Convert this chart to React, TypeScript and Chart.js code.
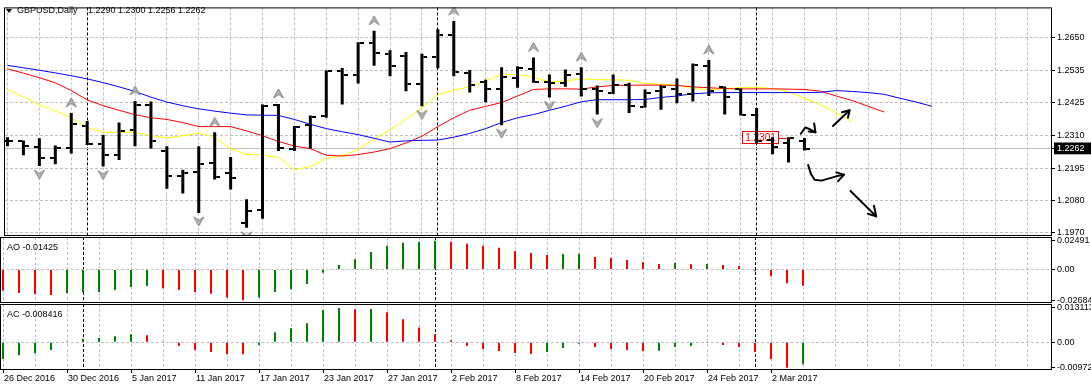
import React, { useEffect, useRef } from 'react';
import { Chart, registerables } from 'chart.js';

Chart.register(...registerables);

// ---------------- data ----------------
const symbolTitle = 'GBPUSD,Daily';
const dateLabels = ['26 Dec 2016', '30 Dec 2016', '5 Jan 2017', '11 Jan 2017', '17 Jan 2017', '23 Jan 2017', '27 Jan 2017', '2 Feb 2017', '8 Feb 2017', '14 Feb 2017', '20 Feb 2017', '24 Feb 2017', '2 Mar 2017'];
const monthStartBars = [5, 27, 47];

const opens = [1.2288, 1.2288, 1.2268, 1.2231, 1.2266, 1.2342, 1.2278, 1.2242, 1.2328, 1.2414, 1.2254, 1.2166, 1.2180, 1.2211, 1.2177, 1.2003, 1.2050, 1.2414, 1.2263, 1.2345, 1.2377, 1.2533, 1.2522, 1.2633, 1.2595, 1.2587, 1.2488, 1.2585, 1.2659, 1.2527, 1.2495, 1.2473, 1.2511, 1.2540, 1.2496, 1.2491, 1.2525, 1.2470, 1.2459, 1.2485, 1.2409, 1.2465, 1.2473, 1.2454, 1.2553, 1.2477, 1.2471, 1.2379, 1.2294, 1.2282, 1.2290];
const highs = [1.2303, 1.2291, 1.2299, 1.2274, 1.2388, 1.2360, 1.2311, 1.2354, 1.2430, 1.2428, 1.2271, 1.2189, 1.2271, 1.2320, 1.2234, 1.2086, 1.2417, 1.2419, 1.2342, 1.2379, 1.2536, 1.2545, 1.2635, 1.2675, 1.2607, 1.2601, 1.2595, 1.2681, 1.2709, 1.2538, 1.2504, 1.2548, 1.2551, 1.2582, 1.2522, 1.2540, 1.2548, 1.2484, 1.2522, 1.2493, 1.2470, 1.2485, 1.2508, 1.2561, 1.2573, 1.2480, 1.2473, 1.2405, 1.2303, 1.2303, 1.2300];
const lows = [1.2271, 1.2240, 1.2202, 1.2208, 1.2246, 1.2276, 1.2200, 1.2223, 1.2271, 1.2263, 1.2123, 1.2106, 1.2038, 1.2155, 1.2120, 1.1986, 1.2018, 1.2255, 1.2255, 1.2263, 1.2371, 1.2417, 1.2491, 1.2553, 1.2516, 1.2464, 1.2411, 1.2544, 1.2516, 1.2459, 1.2425, 1.2345, 1.2476, 1.2493, 1.2442, 1.2479, 1.2445, 1.2382, 1.2454, 1.2388, 1.2407, 1.2399, 1.2422, 1.2428, 1.2447, 1.2382, 1.2379, 1.2280, 1.2243, 1.2214, 1.2256];
const closes = [1.2288, 1.2272, 1.2231, 1.2266, 1.2348, 1.2280, 1.2240, 1.2323, 1.2414, 1.2288, 1.2166, 1.2177, 1.2209, 1.2164, 1.2160, 1.2046, 1.2413, 1.2266, 1.2340, 1.2374, 1.2534, 1.2522, 1.2633, 1.2599, 1.2551, 1.2488, 1.2582, 1.2661, 1.2530, 1.2487, 1.2471, 1.2513, 1.2544, 1.2496, 1.2491, 1.2522, 1.2470, 1.2464, 1.2487, 1.2411, 1.2459, 1.2479, 1.2454, 1.2555, 1.2464, 1.2445, 1.2380, 1.2290, 1.2270, 1.2300, 1.2262];

// Alligator (jaw blue, teeth red, lips yellow) - shifted forward past the last bar
const jaw = [1.2554, 1.2546, 1.2537, 1.2528, 1.2518, 1.2507, 1.2494, 1.2479, 1.2463, 1.2443, 1.2426, 1.2413, 1.2402, 1.2394, 1.2387, 1.2381, 1.2380, 1.2379, 1.2365, 1.2348, 1.2333, 1.2322, 1.2312, 1.2299, 1.2286, 1.2290, 1.2292, 1.2293, 1.2303, 1.2316, 1.2333, 1.2354, 1.2371, 1.2382, 1.2397, 1.2411, 1.2427, 1.2434, 1.2434, 1.2434, 1.2435, 1.2442, 1.2447, 1.2455, 1.2458, 1.2459, 1.2459, 1.2459, 1.2459, 1.2459, 1.2459, 1.2460, 1.2466, 1.2463, 1.2459, 1.2453, 1.2439, 1.2426, 1.2411];
const teeth = [1.2542, 1.2527, 1.2511, 1.2493, 1.2466, 1.2434, 1.2413, 1.2397, 1.2382, 1.2371, 1.2365, 1.2354, 1.2340, 1.2340, 1.2340, 1.2325, 1.2308, 1.2288, 1.2272, 1.2263, 1.2240, 1.2237, 1.2242, 1.2251, 1.2263, 1.2283, 1.2306, 1.2340, 1.2371, 1.2397, 1.2411, 1.2424, 1.2447, 1.2470, 1.2472, 1.2472, 1.2471, 1.2479, 1.2484, 1.2485, 1.2485, 1.2485, 1.2484, 1.2479, 1.2476, 1.2473, 1.2472, 1.2472, 1.2472, 1.2471, 1.2470, 1.2464, 1.2447, 1.2431, 1.2411, 1.2391];
const lips = [1.2470, 1.2445, 1.2417, 1.2394, 1.2371, 1.2337, 1.2320, 1.2320, 1.2320, 1.2308, 1.2301, 1.2308, 1.2317, 1.2303, 1.2263, 1.2243, 1.2240, 1.2233, 1.2189, 1.2200, 1.2229, 1.2238, 1.2259, 1.2297, 1.2328, 1.2365, 1.2405, 1.2451, 1.2468, 1.2479, 1.2500, 1.2522, 1.2522, 1.2513, 1.2496, 1.2500, 1.2507, 1.2504, 1.2504, 1.2502, 1.2491, 1.2488, 1.2486, 1.2473, 1.2470, 1.2473, 1.2476, 1.2478, 1.2473, 1.2462, 1.2439, 1.2417, 1.2388, 1.2358];

const fractalUpBars = [4, 8, 13, 17, 23, 28, 33, 36, 44];
const fractalDownBars = [2, 6, 12, 15, 26, 31, 34, 37];

const aoValues = [-0.0185, -0.0205, -0.0214, -0.0223, -0.0205, -0.0199, -0.0196, -0.0179, -0.0152, -0.0144, -0.0164, -0.0179, -0.0196, -0.0211, -0.0243, -0.02684, -0.0243, -0.0196, -0.0173, -0.0126, -0.0029, 0.0038, 0.0088, 0.0152, 0.0205, 0.0231, 0.0240, 0.02491, 0.0240, 0.0223, 0.0205, 0.0188, 0.0161, 0.0144, 0.0126, 0.0135, 0.0137, 0.0108, 0.0100, 0.0082, 0.0064, 0.0047, 0.0056, 0.0045, 0.0047, 0.0038, 0.0029, -0.0015, -0.0059, -0.0120, -0.01425];
const acValues = [-0.0064, -0.0050, -0.0042, -0.0029, 0.0003, 0.0014, 0.0016, 0.0023, 0.0031, 0.0027, 0.0003, -0.0014, -0.0029, -0.0037, -0.0045, -0.0046, -0.0010, 0.0038, 0.0054, 0.0073, 0.0123, 0.013113, 0.0126, 0.0127, 0.0115, 0.0088, 0.0057, 0.0031, 0.0008, -0.0014, -0.0026, -0.0033, -0.0041, -0.0045, -0.0037, -0.0022, -0.0006, -0.0018, -0.0026, -0.0029, -0.0033, -0.0032, -0.0018, -0.0014, -0.0003, -0.0010, -0.0018, -0.0037, -0.0064, -0.00972, -0.008416];
const aoFirstBarRising = false;
const acFirstBarRising = true;

const priceTicks = [1.2650, 1.2535, 1.2425, 1.2310, 1.2195, 1.2080, 1.1970];
const aoTickLabels = ['0.02491', '0.00', '-0.02684'];
const acTickLabels = ['0.013113', '0.00', '-0.00972'];

// horizontal line object with its price label
const hLine = { level: 1.2301, label: '1.2301', from: 46.1, labelTo: 48.35, to: 49.05 };

// hand drawn arrows (bar index, price)
const drawnArrows = [
  { path: [[49.77, 1.2315], [50.06, 1.2337], [50.33, 1.2331], [50.69, 1.2320]], head: [[50.61, 1.2351], [50.69, 1.2320], [50.27, 1.2323]] },
  { path: [[51.79, 1.2342], [52.83, 1.2397]], head: [[52.36, 1.2390], [52.83, 1.2397], [52.73, 1.2371]] },
  { path: [[50.23, 1.2206], [50.40, 1.2175], [50.64, 1.2154], [51.06, 1.2151], [52.0, 1.2166], [52.48, 1.2172]], head: [[52.0, 1.2180], [52.48, 1.2172], [52.11, 1.2149]] },
  { path: [[52.89, 1.2115], [54.5, 1.2026]], head: [[53.98, 1.2035], [54.5, 1.2026], [54.36, 1.2063]] },
];

// ---------------- layout / style ----------------
const W = 1091;
const H = 390;
const FONT = "'Liberation Sans', Arial, sans-serif";
const X_MIN = -0.15625;
const X_MAX = X_MIN + 1050 / 16;
const UP = '#008000';
const DOWN = '#ff0000';
const GRID = '#c0c0c0';

const barIdx = opens.map((_, i) => i);
const lastClose = closes[closes.length - 1];
const gridBars = Array.from({ length: 33 }, (_, k) => k * 2);
const xTickValues = [...gridBars, ...monthStartBars].sort((a, b) => a - b);

function dateLabelFor(v: any): string {
  if (v === undefined || v === null) return '';
  const n = Math.round(v);
  if (Math.abs(v - n) > 1e-6) return '';
  if (n % 4 === 0 && dateLabels[n / 4]) return dateLabels[n / 4];
  return '';
}

function xScale(showLabels: boolean, shift: number) {
  return {
    type: 'linear',
    min: X_MIN + shift,
    max: X_MAX + shift,
    offset: false,
    afterBuildTicks: (s: any) => { s.ticks = xTickValues.map((v) => ({ value: v })); },
    afterFit: (s: any) => { s.height = showLabels ? 21 : 0; },
    ticks: {
      display: showLabels,
      autoSkip: false,
      maxRotation: 0,
      minRotation: 0,
      align: 'start',
      padding: 0,
      labelOffset: 1,
      color: '#000',
      font: { family: FONT, size: 9 },
      callback: (v: any) => dateLabelFor(v),
    },
    grid: {
      display: true,
      drawOnChartArea: true,
      offset: false,
      lineWidth: 1,
      color: (c: any) => (monthStartBars.includes(c.tick?.value) ? '#000' : GRID),
      drawTicks: showLabels,
      tickLength: 4,
      tickColor: (c: any) => (dateLabelFor(c.tick?.value) ? '#000' : 'rgba(0,0,0,0)'),
      tickBorderDash: [],
    },
    border: { display: false, dash: [3, 2] },
  };
}

function indicatorY(labels: string[], min: number, max: number) {
  const vals = labels.map((l) => parseFloat(l));
  return {
    type: 'linear',
    position: 'right',
    min,
    max,
    beginAtZero: false,
    afterBuildTicks: (s: any) => { s.ticks = [...vals].sort((a, b) => a - b).map((v) => ({ value: v })); },
    afterFit: (s: any) => { s.width = 40; },
    ticks: {
      autoSkip: false,
      padding: 2,
      color: '#000',
      font: { family: FONT, size: 9 },
      callback: (v: any) => { const k = vals.indexOf(v); return k >= 0 ? labels[k] : ''; },
    },
    grid: {
      lineWidth: 1,
      color: (c: any) => (c.tick?.value === 0 ? GRID : 'rgba(0,0,0,0)'),
      drawTicks: true,
      tickLength: 4,
      tickColor: '#000',
      tickBorderDash: [],
    },
    border: { display: false, dash: [3, 2] },
  };
}

const framePlugin = {
  id: 'paneFrame',
  afterDraw(chart: any) {
    const { ctx, chartArea: a } = chart;
    ctx.save();
    ctx.setLineDash([]);
    ctx.strokeStyle = '#000';
    ctx.lineWidth = 1;
    ctx.strokeRect(a.left - 0.5, a.top + 0.5, a.right - a.left + 1, a.bottom - a.top);
    ctx.restore();
  },
};

const drawingsPlugin = {
  id: 'drawings',
  beforeDatasetsDraw(chart: any) {
    const { ctx, scales: { x, y } } = chart;
    ctx.save();
    const yy = Math.round(y.getPixelForValue(hLine.level)) + 0.5;
    const x0 = x.getPixelForValue(hLine.from);
    const x1 = x.getPixelForValue(hLine.to);
    const xb = x.getPixelForValue(hLine.labelTo);
    ctx.strokeStyle = '#ff0000';
    ctx.lineWidth = 1;
    ctx.beginPath();
    ctx.moveTo(x0, yy);
    ctx.lineTo(x1, yy);
    ctx.stroke();
    const bx = Math.round(x0) + 0.5;
    const bw = Math.round(xb - x0);
    ctx.fillStyle = '#fff';
    ctx.fillRect(bx, yy - 7, bw, 12);
    ctx.strokeRect(bx, yy - 7, bw, 12);
    ctx.fillStyle = '#ff0000';
    ctx.font = `10px ${FONT}`;
    ctx.textAlign = 'center';
    ctx.textBaseline = 'middle';
    ctx.fillText(hLine.label, bx + bw / 2, yy - 0.5);
    ctx.restore();
  },
  afterDatasetsDraw(chart: any) {
    const { ctx, scales: { x, y } } = chart;
    ctx.save();
    ctx.strokeStyle = '#000';
    ctx.lineWidth = 2;
    ctx.lineJoin = 'round';
    ctx.lineCap = 'round';
    const poly = (pts: number[][]) => {
      ctx.beginPath();
      pts.forEach((p, i) => {
        const px = x.getPixelForValue(p[0]);
        const py = y.getPixelForValue(p[1]);
        if (i === 0) ctx.moveTo(px, py); else ctx.lineTo(px, py);
      });
      ctx.stroke();
    };
    drawnArrows.forEach((a) => { poly(a.path); poly(a.head); });
    ctx.restore();
  },
};

function makeTick(left: boolean) {
  const c = document.createElement('canvas');
  c.width = 11;
  c.height = 2;
  const g = c.getContext('2d')!;
  g.fillStyle = '#000';
  g.fillRect(left ? 0 : 7, 0, 4, 2);
  return c;
}

function makeFractal(up: boolean) {
  const c = document.createElement('canvas');
  c.width = 13;
  c.height = 44;
  const g = c.getContext('2d')!;
  g.beginPath();
  if (up) {
    g.moveTo(6.5, 7); g.lineTo(11.5, 16); g.lineTo(6.5, 12.5); g.lineTo(1.5, 16);
  } else {
    g.moveTo(6.5, 35); g.lineTo(11.5, 26); g.lineTo(6.5, 29.5); g.lineTo(1.5, 26);
  }
  g.closePath();
  g.fillStyle = '#b4b4b4';
  g.fill();
  g.strokeStyle = '#808080';
  g.lineWidth = 1;
  g.stroke();
  return c;
}

const baseOptions = (padding: any) => ({
  responsive: false,
  animation: false,
  devicePixelRatio: 1,
  events: [],
  layout: { padding },
  plugins: { legend: { display: false }, tooltip: { enabled: false }, title: { display: false } },
});

export default function App() {
  const mainRef = useRef<HTMLCanvasElement>(null);
  const aoRef = useRef<HTMLCanvasElement>(null);
  const acRef = useRef<HTMLCanvasElement>(null);

  useEffect(() => {
    const leftTick = makeTick(true);
    const rightTick = makeTick(false);
    const upArrow = makeFractal(true);
    const downArrow = makeFractal(false);

    const main = new Chart(mainRef.current!, {
      type: 'bar',
      data: {
        datasets: [
          { type: 'bar', data: barIdx.map((i) => ({ x: i, y: [lows[i], highs[i]] })), backgroundColor: '#000', borderWidth: 0, barThickness: 3, inflateAmount: 0, grouped: false, order: 1, clip: 0 } as any,
          { type: 'line', data: barIdx.map((i) => ({ x: i, y: opens[i] })), showLine: false, pointStyle: leftTick, pointRadius: 3, order: 0, clip: 0 } as any,
          { type: 'line', data: barIdx.map((i) => ({ x: i, y: closes[i] })), showLine: false, pointStyle: rightTick, pointRadius: 3, order: 0, clip: 0 } as any,
          { type: 'line', data: fractalUpBars.map((b) => ({ x: b, y: highs[b] })), showLine: false, pointStyle: upArrow, pointRadius: 3, order: 2, clip: 0 } as any,
          { type: 'line', data: fractalDownBars.map((b) => ({ x: b, y: lows[b] })), showLine: false, pointStyle: downArrow, pointRadius: 3, order: 2, clip: 0 } as any,
          { type: 'line', data: jaw.map((v, i) => ({ x: i, y: v })), borderColor: '#0000ff', borderWidth: 1, pointRadius: 0, tension: 0, fill: false, order: 5, clip: 0 } as any,
          { type: 'line', data: teeth.map((v, i) => ({ x: i, y: v })), borderColor: '#ff0000', borderWidth: 1, pointRadius: 0, tension: 0, fill: false, order: 5, clip: 0 } as any,
          { type: 'line', data: lips.map((v, i) => ({ x: i, y: v })), borderColor: '#ffff00', borderWidth: 1, pointRadius: 0, tension: 0, fill: false, order: 5, clip: 0 } as any,
        ],
      },
      options: {
        ...baseOptions({ left: 1, top: 2, right: 0, bottom: H - 235 }),
        scales: {
          x: xScale(false, 0),
          y: {
            type: 'linear',
            position: 'right',
            min: 1.19608,
            max: 1.2757,
            beginAtZero: false,
            afterBuildTicks: (s: any) => { s.ticks = [...priceTicks, lastClose].sort((a, b) => a - b).map((v) => ({ value: v })); },
            afterFit: (s: any) => { s.width = 40; },
            ticks: {
              autoSkip: false,
              padding: 2,
              font: { family: FONT, size: 9 },
              color: (c: any) => (c.tick?.value === lastClose ? '#fff' : '#000'),
              showLabelBackdrop: (c: any) => c.tick?.value === lastClose,
              backdropColor: '#000',
              backdropPadding: { left: 3, right: 8, top: 1, bottom: 0 },
              callback: (v: any) => Number(v).toFixed(4),
            },
            grid: {
              lineWidth: 1,
              color: GRID,
              drawTicks: true,
              tickLength: 4,
              tickColor: '#000',
              tickBorderDash: [],
            },
            border: { display: false, dash: (c: any) => (c.tick?.value === lastClose ? [] : [3, 2]) },
          },
        },
      } as any,
      plugins: [framePlugin, drawingsPlugin],
    } as any);

    const histo = (vals: number[], firstRising: boolean) =>
      vals.map((v, i) => (i === 0 ? (firstRising ? UP : DOWN) : v > vals[i - 1] ? UP : DOWN));

    const ao = new Chart(aoRef.current!, {
      type: 'bar',
      data: {
        datasets: [
          { data: aoValues.map((v, i) => ({ x: i, y: v })), backgroundColor: histo(aoValues, aoFirstBarRising), borderWidth: 0, barThickness: 2, inflateAmount: 0, grouped: false, clip: 0 } as any,
        ],
      },
      options: {
        ...baseOptions({ left: 1, top: 237, right: 0, bottom: H - 302 }),
        scales: { x: xScale(false, 1 / 32), y: indicatorY(aoTickLabels, -0.0283, 0.0282) },
      } as any,
      plugins: [framePlugin],
    } as any);

    const ac = new Chart(acRef.current!, {
      type: 'bar',
      data: {
        datasets: [
          { data: acValues.map((v, i) => ({ x: i, y: v })), backgroundColor: histo(acValues, acFirstBarRising), borderWidth: 0, barThickness: 2, inflateAmount: 0, grouped: false, clip: 0 } as any,
        ],
      },
      options: {
        ...baseOptions({ left: 1, top: 304, right: 0, bottom: 0 }),
        scales: { x: xScale(true, 1 / 32), y: indicatorY(acTickLabels, -0.01021, 0.01464) },
      } as any,
      plugins: [framePlugin],
    } as any);

    return () => {
      main.destroy();
      ao.destroy();
      ac.destroy();
    };
  }, []);

  const n = opens.length - 1;
  const ohlcText = [opens[n], highs[n], lows[n], closes[n]].map((v) => v.toFixed(4)).join(' ');
  const aoText = `AO ${aoValues[aoValues.length - 1].toFixed(5)}`;
  const acText = `AC ${acValues[acValues.length - 1].toFixed(6)}`;
  const textStyle: React.CSSProperties = {
    position: 'absolute',
    fontFamily: FONT,
    fontSize: 9,
    lineHeight: '12px',
    color: '#000',
    whiteSpace: 'nowrap',
    zIndex: 2,
  };
  const canvasStyle: React.CSSProperties = { position: 'absolute', left: 0, top: 0, width: W, height: H };

  return (
    <div style={{ position: 'absolute', left: 0, top: 0, width: W, height: H, background: '#fff', overflow: 'hidden' }}>
      <canvas ref={mainRef} width={W} height={H} style={canvasStyle} />
      <canvas ref={aoRef} width={W} height={H} style={canvasStyle} />
      <canvas ref={acRef} width={W} height={H} style={canvasStyle} />
      <div style={{ position: 'absolute', left: 6, top: 9, width: 0, height: 0, borderLeft: '3px solid transparent', borderRight: '3px solid transparent', borderTop: '4px solid #000', zIndex: 2 }} />
      <div style={{ ...textStyle, left: 17, top: 4 }}>{symbolTitle}</div>
      <div style={{ ...textStyle, left: 88, top: 4 }}>{ohlcText}</div>
      <div style={{ ...textStyle, left: 7, top: 241 }}>{aoText}</div>
      <div style={{ ...textStyle, left: 7, top: 308 }}>{acText}</div>
    </div>
  );
}
